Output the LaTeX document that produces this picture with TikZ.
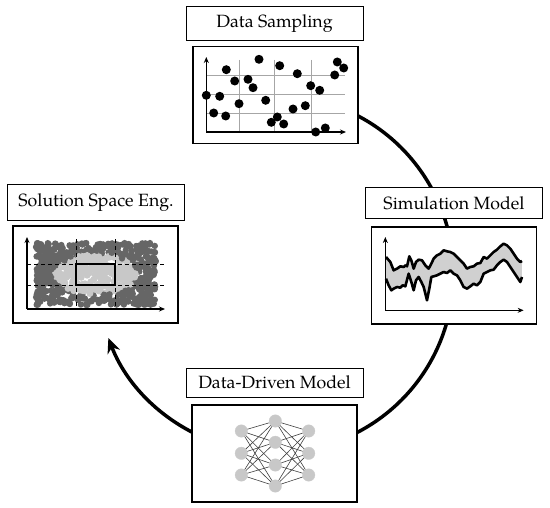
\documentclass[tikz,border=0pt]{standalone}
\usepackage{fontspec}
\setmainfont{TeX Gyre Pagella}
\usetikzlibrary{arrows.meta,calc}
\definecolor{dotdark}{HTML}{666666}
\definecolor{dotlight}{HTML}{C8C8C8}
\definecolor{bandfill}{HTML}{D0D0D0}
\begin{document}
\begin{tikzpicture}[x=1bp,y=-1bp,
  lbl/.style={draw, fill=white, line width=1bp, minimum width=177bp, inner sep=0pt, font=\fontsize{17.8}{20}\selectfont},
  panel/.style={draw, fill=white, line width=1.1bp, minimum width=165bp, minimum height=97bp, inner sep=0pt},
  cyclearrow/.style={line width=3.5bp, -{Stealth[length=15bp,width=13bp]}},
  axis/.style={line width=1.3bp, -{Stealth[length=6bp,width=5bp]}},
  gridln/.style={line width=0.9bp, black!35},
  sdot/.style={fill=black},
  dashln/.style={line width=1bp, dash pattern=on 4bp off 3bp},
  curve/.style={line width=2.6bp, line join=round},
  nn/.style={circle, fill=dotlight, draw=black!20, line width=0.3bp, minimum size=12.5bp, inner sep=0pt},
  nnedge/.style={line width=0.6bp, black!75}]
\useasboundingbox (0,0) rectangle (550,508);

% cycle arc (behind the boxes)
\coordinate (ctr) at (275,274);
\coordinate (arrowend) at ($(ctr)+(159:178.5)$);
\draw[cyclearrow] ($(ctr)+(-75:178.5)$) arc[start angle=-75, end angle=159, radius=178.5];

% labels and panels
\node[lbl, minimum height=34bp] (dsl) at (274.5,24) {Data Sampling};
\node[panel] (dsp) at (275.5,95) {};
\node[lbl, minimum height=35bp] (ssl) at (96,202.5) {Solution Space Eng.};
\node[panel] (ssp) at (95.5,274.5) {};
\node[lbl, minimum height=30bp] (sml) at (454,203) {Simulation Model};
\node[panel] (smp) at (454,275.5) {};
\node[lbl, minimum height=29bp] (ddl) at (274.5,382.5) {Data-Driven Model};
\node[panel] (ddp) at (274.5,453.5) {};

% ---------- Data sampling scatter ----------
\foreach \gx in {239,274.7,311.3} \draw[gridln] (\gx,60) -- (\gx,132);
\foreach \gy in {75.3,94.3,113} \draw[gridln] (206.3,\gy) -- (344.7,\gy);
\foreach \p in {(206.3,95.3),(219.7,96.3),(226.3,69.7),(234.7,81),(213.7,113),(225.7,116),
  (239,103.7),(248,79.3),(253,87.7),(259,59.3),(265.7,100.3),(279.7,65.7),(271.3,122.3),
  (277.3,117),(283.7,124),(293,109),(297.3,73.7),(305.3,105.7),(310.7,85.7),(319.7,90.3),
  (315.7,132),(325.3,128),(334.7,75),(337.3,62),(343.7,68)}
  \fill[sdot] \p circle[radius=4.5];
\draw[axis] (206.3,132) -- (206.3,57);
\draw[axis] (206.3,132) -- (346,132);

% ---------- Solution space ----------
\pgfmathsetseed{11}
\foreach \i in {1,...,800}{
  \pgfmathsetmacro\px{36+120*rnd}
  \pgfmathsetmacro\py{243+62*rnd}
  \pgfmathsetmacro\ins{((\px-96)/41)^2+((\py-274)/20)^2}
  \ifdim\ins pt<1pt
    \fill[dotlight] (\px,\py) circle[radius=3.4];
  \else
    \fill[dotdark] (\px,\py) circle[radius=3.2];
  \fi
}
\foreach \gx in {76.3,115.3} \draw[dashln] (\gx,239) -- (\gx,309);
\foreach \gy in {264.3,285} \draw[dashln] (27,\gy) -- (165,\gy);
\draw[line width=2.2bp] (76.3,264.3) rectangle (115.3,285);
\draw[axis] (27,309) -- (27,237);
\draw[axis] (27,309) -- (165,309);

% ---------- Simulation model ----------
\begin{scope}[shift={(372,227)}, x=0.3333bp, y=-0.3333bp]
\fill[bandfill] (42,90) -- (55,105) -- (65,130) -- (75,125) -- (85,118) -- (95,120) -- (100,115) -- (105,118) -- (112,88) -- (118,100) -- (125,125) -- (132,105) -- (140,98) -- (150,100) -- (160,115) -- (170,125) -- (178,110) -- (185,95) -- (195,85) -- (205,80) -- (215,70) -- (225,73) -- (235,75) -- (245,80) -- (255,90) -- (265,100) -- (275,110) -- (285,125) -- (295,120) -- (305,118) -- (315,110) -- (325,108) -- (335,90) -- (345,95) -- (355,85) -- (365,75) -- (375,68) -- (385,58) -- (395,50) -- (405,55) -- (415,65) -- (425,80) -- (435,95) -- (445,105) -- (450,102)
 -- (450,150) -- (445,165) -- (435,150) -- (425,135) -- (415,120) -- (405,105) -- (395,98) -- (385,105) -- (375,115) -- (365,128) -- (355,130) -- (345,135) -- (335,140) -- (325,165) -- (315,175) -- (305,170) -- (295,178) -- (285,185) -- (275,180) -- (265,160) -- (255,145) -- (245,140) -- (235,130) -- (225,138) -- (215,135) -- (205,140) -- (195,145) -- (185,148) -- (178,150) -- (172,185) -- (165,220) -- (160,200) -- (155,180) -- (148,165) -- (140,150) -- (132,160) -- (125,190) -- (118,165) -- (110,140) -- (100,178) -- (92,175) -- (85,182) -- (75,180) -- (65,185) -- (58,190) -- (50,175) -- (42,155) -- cycle;
\draw[curve] (42,90) -- (55,105) -- (65,130) -- (75,125) -- (85,118) -- (95,120) -- (100,115) -- (105,118) -- (112,88) -- (118,100) -- (125,125) -- (132,105) -- (140,98) -- (150,100) -- (160,115) -- (170,125) -- (178,110) -- (185,95) -- (195,85) -- (205,80) -- (215,70) -- (225,73) -- (235,75) -- (245,80) -- (255,90) -- (265,100) -- (275,110) -- (285,125) -- (295,120) -- (305,118) -- (315,110) -- (325,108) -- (335,90) -- (345,95) -- (355,85) -- (365,75) -- (375,68) -- (385,58) -- (395,50) -- (405,55) -- (415,65) -- (425,80) -- (435,95) -- (445,105) -- (450,102);
\draw[curve] (42,155) -- (50,175) -- (58,190) -- (65,185) -- (75,180) -- (85,182) -- (92,175) -- (100,178) -- (110,140) -- (118,165) -- (125,190) -- (132,160) -- (140,150) -- (148,165) -- (155,180) -- (160,200) -- (165,220) -- (172,185) -- (178,150) -- (185,148) -- (195,145) -- (205,140) -- (215,135) -- (225,138) -- (235,130) -- (245,140) -- (255,145) -- (265,160) -- (275,180) -- (285,185) -- (295,178) -- (305,170) -- (315,175) -- (325,165) -- (335,140) -- (345,135) -- (355,130) -- (365,128) -- (375,115) -- (385,105) -- (395,98) -- (405,105) -- (415,120) -- (425,135) -- (435,150) -- (445,165) -- (450,150);
\draw[axis] (40,250) -- (40,30);
\draw[axis] (40,250) -- (455,250);
\end{scope}

% ---------- Neural network ----------
\node[nn] (i1) at (241.3,431) {};
\node[nn] (i2) at (241.3,453.3) {};
\node[nn] (i3) at (241.3,475) {};
\node[nn] (h1) at (275.3,421) {};
\node[nn] (h2) at (275.3,442.3) {};
\node[nn] (h3) at (275.3,465) {};
\node[nn] (h4) at (275.3,486) {};
\node[nn] (o1) at (308.7,431) {};
\node[nn] (o2) at (308.7,453.3) {};
\node[nn] (o3) at (308.7,475) {};
\foreach \a in {i1,i2,i3} \foreach \b in {h1,h2,h3,h4} \draw[nnedge] (\a) -- (\b);
\foreach \a in {h1,h2,h3,h4} \foreach \b in {o1,o2,o3} \draw[nnedge] (\a) -- (\b);
\end{tikzpicture}
\end{document}
